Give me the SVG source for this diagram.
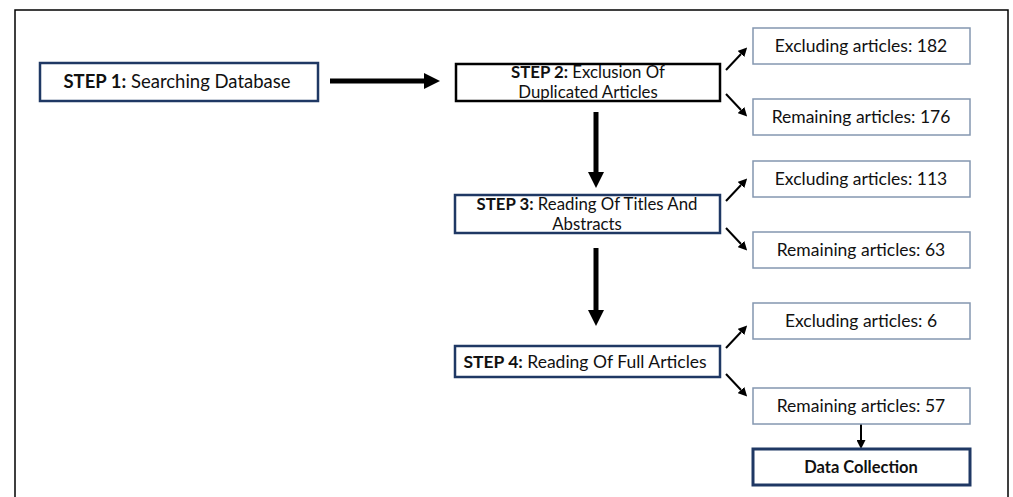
<svg xmlns="http://www.w3.org/2000/svg" width="1013" height="497" viewBox="0 0 1013 497">
<defs>
<style>
text{font-family:Lato,"Liberation Sans",sans-serif;font-size:17.5px;fill:#111;text-anchor:middle}
.two{font-size:16.8px}
.big{font-size:18.5px}
.b{font-weight:bold}
.step{fill:#fff;stroke:#1f3864;stroke-width:2.5}
.step2{fill:#fff;stroke:#000;stroke-width:2.5}
.res{fill:#fff;stroke:#8497b0;stroke-width:1.5}
.dc{fill:#fff;stroke:#1f3864;stroke-width:3}
.thick{stroke:#000;stroke-width:5;fill:none}
.thin{stroke:#000;stroke-width:2;fill:none}
</style>
<marker id="bigHead" viewBox="0 0 10 10" refX="0" refY="5" markerWidth="3.2" markerHeight="3.2" markerUnits="strokeWidth" orient="auto"><path d="M0,0 L10,5 L0,10 z" fill="#000"/></marker>
<marker id="smallHead" viewBox="0 0 10 10" refX="0" refY="5" markerWidth="4.5" markerHeight="4.5" markerUnits="strokeWidth" orient="auto"><path d="M0,0 L10,5 L0,10 z" fill="#000"/></marker>
</defs>
<rect x="15" y="10" width="993" height="500" fill="#fff" stroke="#000" stroke-width="1.5"/>

<g id="connectors">
<line class="thick" x1="330" y1="81" x2="424" y2="81" marker-end="url(#bigHead)"/>
<line class="thick" x1="596" y1="112" x2="596" y2="172" marker-end="url(#bigHead)"/>
<line class="thick" x1="596" y1="248" x2="596" y2="310" marker-end="url(#bigHead)"/>
<line class="thin" x1="726" y1="70" x2="741" y2="54" marker-end="url(#smallHead)"/>
<line class="thin" x1="726" y1="94" x2="741" y2="110" marker-end="url(#smallHead)"/>
<line class="thin" x1="726" y1="201" x2="741" y2="185" marker-end="url(#smallHead)"/>
<line class="thin" x1="726" y1="228" x2="741" y2="244" marker-end="url(#smallHead)"/>
<line class="thin" x1="726" y1="348" x2="741" y2="332" marker-end="url(#smallHead)"/>
<line class="thin" x1="726" y1="374" x2="741" y2="390" marker-end="url(#smallHead)"/>
<line class="thin" x1="861" y1="424" x2="861" y2="440" marker-end="url(#smallHead)"/>
</g>

<g id="step1">
<rect class="step" x="40" y="63" width="278" height="38"/>
<text class="big" x="177" y="88"><tspan class="b">STEP 1:</tspan> Searching Database</text>
</g>
<g id="step2">
<rect class="step2" x="456" y="64" width="264" height="37"/>
<text class="two" x="588" y="78"><tspan class="b">STEP 2:</tspan> Exclusion Of</text>
<text class="two" x="588" y="98">Duplicated Articles</text>
</g>
<g id="step3">
<rect class="step" x="455" y="195" width="265" height="38"/>
<text class="two" x="587" y="210"><tspan class="b">STEP 3:</tspan> Reading Of Titles And</text>
<text class="two" x="587" y="230">Abstracts</text>
</g>
<g id="step4">
<rect class="step" x="455" y="346" width="265" height="31"/>
<text x="585" y="368"><tspan class="b">STEP 4:</tspan> Reading Of Full Articles</text>
</g>
<g id="excl182">
<rect class="res" x="753" y="28" width="217" height="36"/>
<text x="861" y="52">Excluding articles: 182</text>
</g>
<g id="rem176">
<rect class="res" x="753" y="99" width="217" height="36"/>
<text x="861" y="123">Remaining articles: 176</text>
</g>
<g id="excl113">
<rect class="res" x="753" y="161" width="217" height="36"/>
<text x="861" y="185">Excluding articles: 113</text>
</g>
<g id="rem63">
<rect class="res" x="753" y="232" width="217" height="36"/>
<text x="861" y="256">Remaining articles: 63</text>
</g>
<g id="excl6">
<rect class="res" x="753" y="303" width="217" height="36"/>
<text x="861" y="327">Excluding articles: 6</text>
</g>
<g id="rem57">
<rect class="res" x="753" y="388" width="217" height="36"/>
<text x="861" y="412">Remaining articles: 57</text>
</g>
<g id="datacollection">
<rect class="dc" x="753" y="449" width="217" height="36"/>
<text class="b" x="861" y="473" style="font-size:16.5px">Data Collection</text>
</g>
</svg>
